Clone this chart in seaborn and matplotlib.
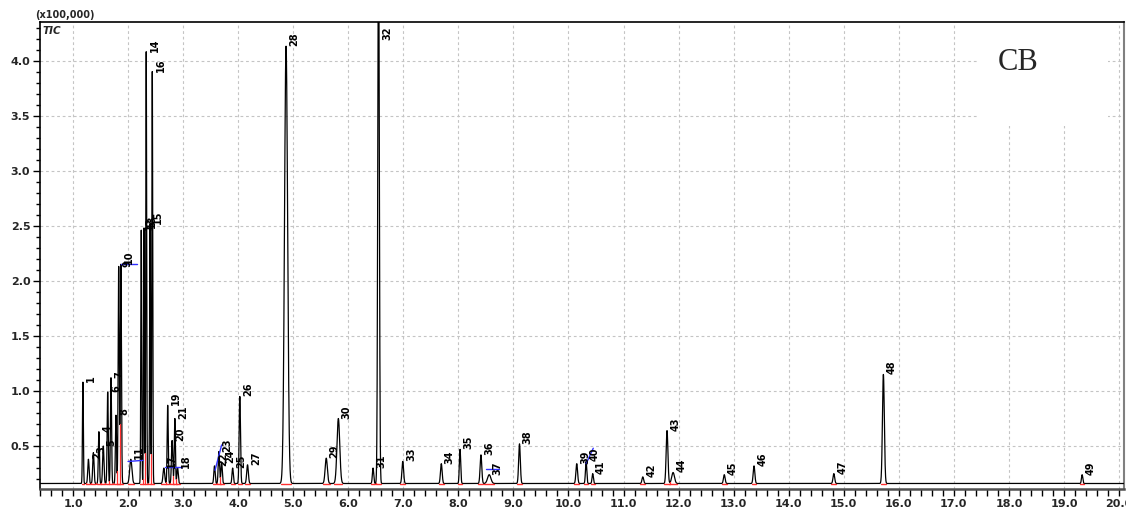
import numpy as np
import pandas as pd
import matplotlib
matplotlib.use("Agg")
import matplotlib.pyplot as plt
import seaborn as sns
from matplotlib.patches import Rectangle
from matplotlib.ticker import MultipleLocator, FormatStrFormatter

# Peak table of the total ion chromatogram (retention time in min,
# apex intensity in units of 100,000 counts, peak sigma in min)
peak_ids = list(range(1, 50))
peak_rt = [1.18, 1.28, 1.37, 1.47, 1.55, 1.63, 1.69, 1.78, 1.83, 1.87,
           2.05, 2.24, 2.29, 2.33, 2.40, 2.44, 2.65, 2.90, 2.72, 2.80,
           2.85, 3.57, 3.65, 3.70, 3.90, 4.03, 4.17, 4.87, 5.60, 5.82,
           6.45, 6.55, 6.99, 7.69, 8.03, 8.41, 8.56, 9.11, 10.15, 10.32,
           10.44, 11.35, 11.79, 11.90, 12.83, 13.37, 14.82, 15.72, 19.33]
peak_top = [1.08, 0.38, 0.44, 0.63, 0.50, 0.99, 1.12, 0.78, 2.13, 2.15,
            0.38, 2.46, 2.48, 4.08, 2.52, 3.90, 0.30, 0.30, 0.87, 0.55,
            0.75, 0.32, 0.45, 0.35, 0.30, 0.95, 0.33, 4.13, 0.39, 0.75,
            0.30, 5.20, 0.36, 0.34, 0.47, 0.42, 0.24, 0.52, 0.34, 0.36,
            0.25, 0.22, 0.64, 0.26, 0.24, 0.32, 0.25, 1.15, 0.24]
peak_sigma = [0.008, 0.012, 0.012, 0.010, 0.012, 0.010, 0.010, 0.010, 0.010, 0.010,
              0.020, 0.008, 0.008, 0.008, 0.008, 0.008, 0.015, 0.012, 0.010, 0.012,
              0.010, 0.012, 0.012, 0.012, 0.012, 0.012, 0.015, 0.028, 0.020, 0.025,
              0.012, 0.014, 0.015, 0.015, 0.012, 0.015, 0.030, 0.015, 0.015, 0.012,
              0.012, 0.015, 0.016, 0.025, 0.015, 0.015, 0.015, 0.017, 0.012]
baseline_level = 0.16

# Tangent-skim baselines drawn by the integrator
skim_t0 = [1.87, 2.00, 2.67, 3.58, 8.50, 10.32]
skim_t1 = [2.16, 2.27, 2.98, 3.70, 8.74, 10.45]
skim_v0 = [2.15, 0.36, 0.31, 0.28, 0.29, 0.34]
skim_v1 = [2.15, 0.37, 0.31, 0.51, 0.29, 0.48]

# Axis tick values
x_major = [float(v) for v in range(1, 21)]
y_major = [0.5, 1.0, 1.5, 2.0, 2.5, 3.0, 3.5, 4.0]

# Build the trace from the peak table
t = np.arange(0.40, 20.10, 0.002)
signal = np.full_like(t, baseline_level)
for rt, top, sg in zip(peak_rt, peak_top, peak_sigma):
    signal += (top - baseline_level) * np.exp(-0.5 * ((t - rt) / sg) ** 2)
trace = pd.DataFrame({"time": t, "intensity": signal})

sns.set_theme(style="white")
plt.rcParams["font.family"] = ["DejaVu Sans"]

fig = plt.figure(figsize=(11.26, 5.20), dpi=100)
ax = fig.add_axes([0.0355, 0.0596, 0.9627, 0.8981])

ax.set_xlim(0.40, 20.09)
ax.set_ylim(0.11, 4.35)

# grid
for xv in x_major:
    ax.axvline(xv, color="#c4c4c4", lw=0.8, ls=(0, (2.5, 2.5)), zorder=0)
for yv in y_major:
    ax.axhline(yv, color="#c4c4c4", lw=0.8, ls=(0, (2.5, 2.5)), zorder=0)

# white panel behind the sample name
ax.add_patch(Rectangle((0.865, 0.777), 0.12, 0.223, transform=ax.transAxes,
                       facecolor="white", edgecolor="none", zorder=1))

sns.lineplot(data=trace, x="time", y="intensity", color="black", linewidth=0.9,
             estimator=None, ax=ax, zorder=3, legend=False)

# integration baselines and drop lines
for rt, sg in zip(peak_rt, peak_sigma):
    ax.plot([rt - 3 * sg, rt + 3 * sg], [baseline_level, baseline_level],
            color="#ff3030", lw=1.0, zorder=4)
order = np.argsort(peak_rt)
srt = [peak_rt[i] for i in order]
for a, b in zip(srt[:-1], srt[1:]):
    if b - a < 0.13:
        m = 0.5 * (a + b)
        val = np.interp(m, t, signal)
        ax.plot([m, m], [baseline_level, val], color="#ff3030", lw=0.9, zorder=4)

for a0, a1, v0, v1 in zip(skim_t0, skim_t1, skim_v0, skim_v1):
    ax.plot([a0, a1], [v0, v1], color="#3030ff", lw=1.0, zorder=4)

# peak numbers
for pid, rt, top in zip(peak_ids, peak_rt, peak_top):
    ax.annotate(str(pid), xy=(rt, min(top, 4.19)), xytext=(6, 0),
                textcoords="offset points", rotation=90, ha="center", va="bottom",
                fontsize=7, fontweight="bold", color="black", zorder=5,
                annotation_clip=False)

# axes styling
ax.xaxis.set_major_locator(MultipleLocator(1.0))
ax.xaxis.set_minor_locator(MultipleLocator(0.2))
ax.yaxis.set_major_locator(MultipleLocator(0.5))
ax.yaxis.set_minor_locator(MultipleLocator(0.1))
ax.xaxis.set_major_formatter(FormatStrFormatter("%.1f"))
ax.yaxis.set_major_formatter(FormatStrFormatter("%.1f"))
ax.set_xticks(x_major)
ax.set_yticks(y_major)
ax.tick_params(axis="both", which="both", direction="out", color="black",
               bottom=True, left=True, top=False, right=False)
ax.tick_params(axis="x", which="major", length=5, width=1, labelsize=8, pad=2)
ax.tick_params(axis="x", which="minor", length=5, width=1)
ax.tick_params(axis="y", which="major", length=5, width=1, labelsize=8, pad=2)
ax.tick_params(axis="y", which="minor", length=3, width=1)
for lab in ax.get_xticklabels() + ax.get_yticklabels():
    lab.set_fontweight("bold")
ax.set_xlabel("")
ax.set_ylabel("")
for side in ["left", "top"]:
    ax.spines[side].set_color("black")
    ax.spines[side].set_linewidth(1.2)
ax.spines["bottom"].set_color("#505050")
ax.spines["bottom"].set_linewidth(1.8)
ax.spines["right"].set_color("#808080")
ax.spines["right"].set_linewidth(1.5)

fig.text(0.031, 0.962, "(x100,000)", fontsize=7, fontweight="bold", ha="left", va="bottom")
ax.text(0.002, 0.992, "TIC", transform=ax.transAxes, fontsize=7.5, fontweight="bold",
        fontstyle="italic", ha="left", va="top")
ax.text(0.902, 0.914, "CB", transform=ax.transAxes, fontsize=22,
        family="Liberation Serif", ha="center", va="center", zorder=2)

fig.savefig("out.png", dpi=100, facecolor="white")
